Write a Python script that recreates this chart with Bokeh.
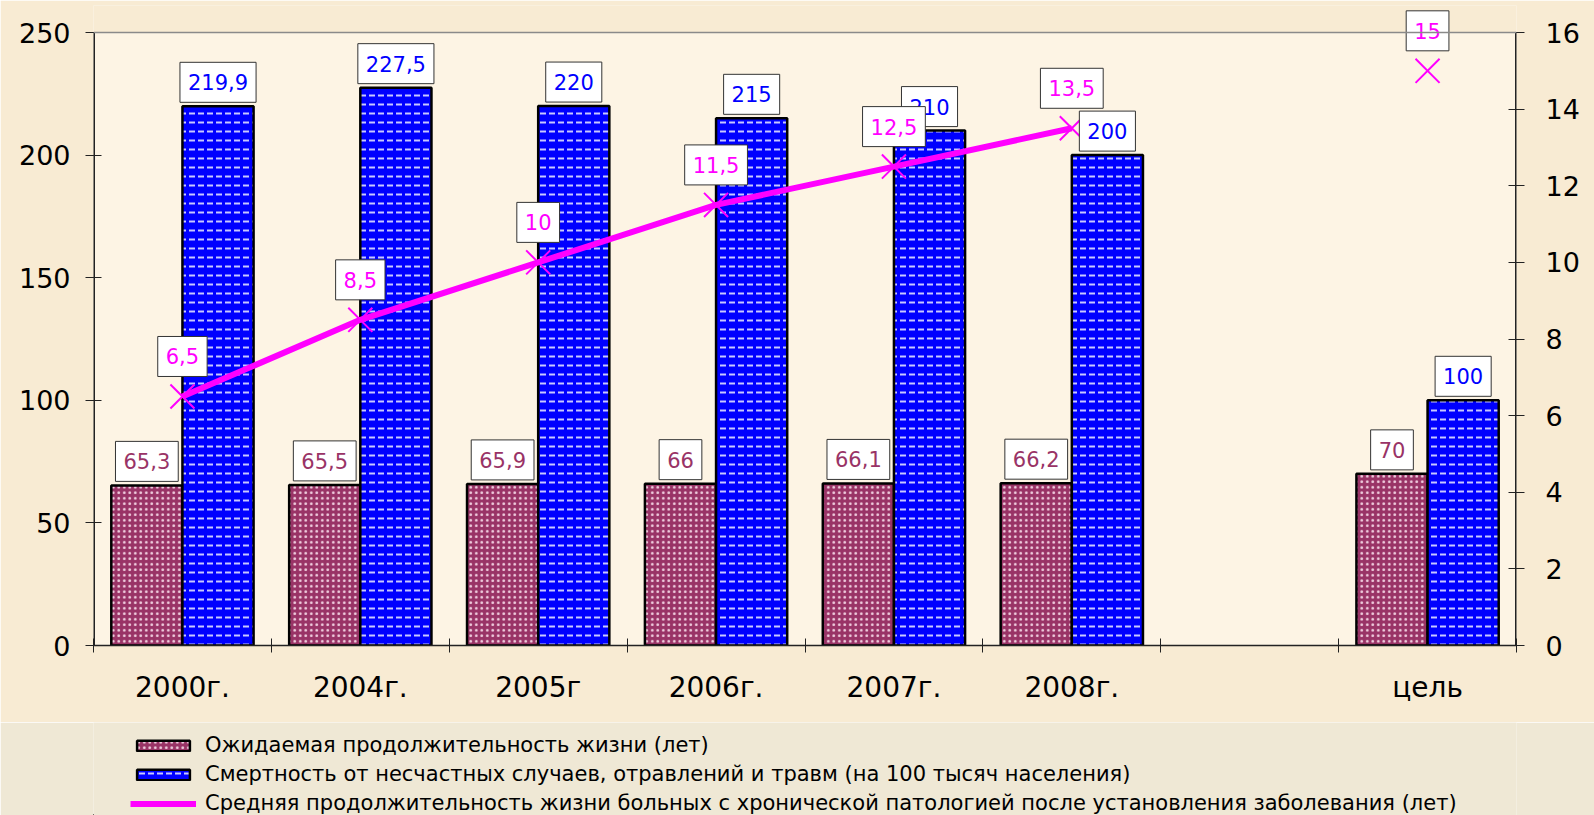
import numpy as np
from bokeh.plotting import figure
from bokeh.layouts import column
from bokeh.models import (Range1d, LinearAxis, FixedTicker, ColumnDataSource,
                          Legend, LegendItem, BoxAnnotation, Span)
from bokeh.core.properties import value
from bokeh.embed import file_html
from bokeh.resources import INLINE

# ---------------- data ----------------
categories = ["2000г.", "2004г.", "2005г", "2006г.", "2007г.", "2008г.", "", "цель"]
life_expectancy = [65.3, 65.5, 65.9, 66, 66.1, 66.2, None, 70]
mortality = [219.9, 227.5, 220, 215, 210, 200, None, 100]
chronic_years = [6.5, 8.5, 10, 11.5, 12.5, 13.5, None, 15]
left_ticks = [0, 50, 100, 150, 200, 250]
right_ticks = [0, 2, 4, 6, 8, 10, 12, 14, 16]
series_names = [
    "Ожидаемая продолжительность жизни (лет)",
    "Смертность от несчастных случаев, отравлений и травм (на 100 тысяч населения)",
    "Средняя продолжительность жизни больных с хронической патологией после установления заболевания (лет)",
]

FONT = "DejaVu Sans"
PINK = "#993366"
BLUE = "#0000FF"
MAGENTA = "#FF00FF"
OUTER = "#F8EBD3"
INNER = "#FDF4E4"
LOWER = "#EFE8D5"
AXIS = "#222222"

W, H_MAIN, H_LEG = 1594, 722, 93
FR_L, FR_R, FR_T, FR_B = 93, 1516, 5, 645   # frame edges (px)
PLOT_TOP = 32                               # pixel of the top tick (250 / 16)


def fmt(v):
    return ("%g" % v).replace(".", ",")


n = len(categories)
centers = np.arange(n) + 0.5
lmax, rmax = left_ticks[-1], right_ticks[-1]
scale_extra = (FR_B - FR_T) / (FR_B - PLOT_TOP)


def build(values, offset):
    xs, ys, ts = [], [], []
    for i, v in enumerate(values):
        if v is None:
            continue
        xs.append(i + 0.5 + offset)
        ys.append(v)
        ts.append(fmt(v))
    return ColumnDataSource(dict(x=xs, y=ys, t=ts))


pink_src = build(life_expectancy, -0.2)
blue_src = build(mortality, 0.2)
pt_src = build(chronic_years, 0.0)
line_src = ColumnDataSource(dict(
    x=list(centers),
    y=[np.nan if v is None else v for v in chronic_years]))

p = figure(width=W, height=H_MAIN, output_backend="svg", toolbar_location=None,
           x_range=Range1d(0, n), y_range=Range1d(0, lmax * scale_extra),
           min_border_left=FR_L, min_border_right=W - FR_R, min_border_top=FR_T,
           min_border_bottom=H_MAIN - FR_B)
p.extra_y_ranges = {"right": Range1d(0, rmax * scale_extra)}

p.background_fill_color = OUTER
p.border_fill_color = OUTER
p.outline_line_color = None
p.xgrid.visible = False
p.ygrid.visible = False

# plot area fill
p.add_layout(BoxAnnotation(left=0, right=n, bottom=0, top=lmax,
                           fill_color=INNER, fill_alpha=1, line_color=None,
                           level="underlay"))

# ---- axes ----
xa = p.xaxis[0]
xa.ticker = FixedTicker(ticks=list(centers), minor_ticks=list(range(n + 1)))
xa.major_label_overrides = {float(c): categories[i] for i, c in enumerate(centers)}
xa.major_tick_in = 0
xa.major_tick_out = 0
xa.minor_tick_in = 7
xa.minor_tick_out = 7
xa.minor_tick_line_color = AXIS
xa.axis_line_color = AXIS
xa.axis_line_width = 1.5
xa.major_label_text_font = FONT
xa.major_label_text_font_size = "28px"
xa.major_label_text_color = "black"
xa.major_label_standoff = 18

ya = p.yaxis[0]
ya.ticker = FixedTicker(ticks=left_ticks)
ya.minor_tick_line_color = None
ya.major_tick_in = 8
ya.major_tick_out = 8
ya.major_tick_line_color = AXIS
ya.axis_line_color = None
ya.major_label_text_font = FONT
ya.major_label_text_font_size = "27px"
ya.major_label_text_color = "black"
ya.major_label_standoff = 15

ra = LinearAxis(y_range_name="right", ticker=FixedTicker(ticks=right_ticks))
ra.minor_tick_line_color = None
ra.major_tick_in = 8
ra.major_tick_out = 8
ra.major_tick_line_color = AXIS
ra.axis_line_color = None
ra.major_label_text_font = FONT
ra.major_label_text_font_size = "27px"
ra.major_label_text_color = "black"
ra.major_label_standoff = 21
p.add_layout(ra, "right")

# vertical axis lines ending at the top tick, grey top border
p.segment(x0=[0, n], y0=[0, 0], x1=[0, n], y1=[lmax, lmax],
          line_color=AXIS, line_width=3)
p.add_layout(Span(location=lmax, dimension="width", line_color="#8A8A8A",
                  line_width=1.5))

# ---- bars ----
bar_pink = dict(fill_color=PINK, line_color="black", line_width=2.5,
                hatch_pattern="dot", hatch_color="#F2D2E2", hatch_scale=5.5,
                hatch_weight=2)
bar_blue = dict(fill_color=BLUE, line_color="black", line_width=2.5,
                hatch_pattern="horizontal_dash", hatch_color="#C8C8FF",
                hatch_scale=9, hatch_weight=2)
p.vbar(x="x", top="y", bottom=0, width=0.4, source=pink_src, **bar_pink)
p.vbar(x="x", top="y", bottom=0, width=0.4, source=blue_src, **bar_blue)

# ---- line ----
line_style = dict(line_color=MAGENTA, line_width=6)
p.line(x="x", y="y", source=line_src, y_range_name="right", **line_style)
p.scatter(x="x", y="y", source=pt_src, y_range_name="right",
          marker="x", size=34, line_color=MAGENTA, line_width=2)

# ---- labels ----
common = dict(x="x", y="y", text="t", text_align="center", text_baseline="middle",
              text_font=value(FONT), text_font_size="21px",
              background_fill_color="white", border_line_color="#333333",
              border_line_width=1, padding=dict(x=8, y=12))
p.text(source=pink_src, text_color=PINK, y_offset=-24, **common)
p.text(source=blue_src, text_color=BLUE, y_offset=-24, **common)
p.text(source=pt_src, text_color=MAGENTA, y_offset=-40, y_range_name="right", **common)

# ---- legend (separate strip below) ----
lg = figure(width=W, height=H_LEG, output_backend="svg", toolbar_location=None,
            x_range=Range1d(0, 1), y_range=Range1d(0, 1), min_border=0)
lg.axis.visible = False
lg.grid.visible = False
lg.outline_line_color = None
lg.background_fill_color = LOWER
lg.border_fill_color = LOWER
hidden = ColumnDataSource(dict(x=[-10], y=[-10]))   # proxy glyphs, off-range
g1 = lg.vbar(x="x", top="y", width=0.1, source=hidden, **bar_pink)
g2 = lg.vbar(x="x", top="y", width=0.1, source=hidden, **bar_blue)
g3 = lg.line(x="x", y="y", source=hidden, **line_style)
g4 = lg.scatter(x="x", y="y", source=hidden, marker="x", size=12,
                line_color=MAGENTA, line_width=2)
legend = Legend(items=[
    LegendItem(label=series_names[0], renderers=[g1]),
    LegendItem(label=series_names[1], renderers=[g2]),
    LegendItem(label=series_names[2], renderers=[g3, g4]),
], location=(37, 0), orientation="vertical")
legend.label_text_font = FONT
legend.label_text_font_size = "21px"
legend.label_text_color = "black"
legend.glyph_width = 66
legend.glyph_height = 13
legend.label_height = 20
legend.label_standoff = 9
legend.spacing = 5
legend.padding = 0
legend.margin = 0
legend.background_fill_alpha = 0
legend.border_line_color = None
lg.add_layout(legend, "center")

layout = column(p, lg, spacing=0)
open("out.html", "w").write(file_html(layout, INLINE))
